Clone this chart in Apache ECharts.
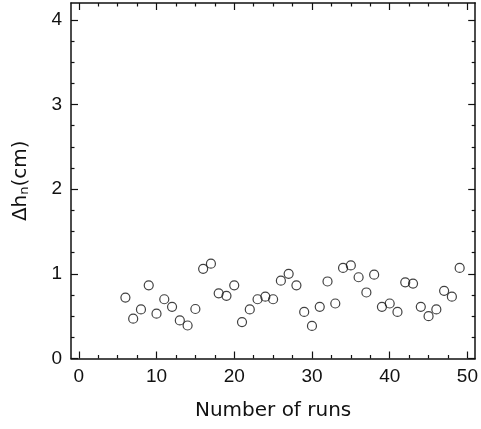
<!DOCTYPE html>
<html>
<head>
<meta charset="utf-8">
<script src="https://cdn.jsdelivr.net/npm/echarts@6/dist/echarts.min.js"></script>
<style>html,body{margin:0;padding:0;background:#fff;}#c{width:481px;height:429px;}</style>
</head>
<body>
<div id="c"></div>
<script>
var runs = [6,7,8,9,10,11,12,13,14,15,16,17,18,19,20,21,22,23,24,25,26,27,28,29,30,31,32,33,34,35,36,37,38,39,40,41,42,43,44,45,46,47,48,49];
var dh = [0.72,0.47,0.58,0.865,0.53,0.70,0.61,0.45,0.39,0.585,1.06,1.12,0.77,0.74,0.865,0.43,0.58,0.70,0.73,0.70,0.92,1.00,0.865,0.55,0.385,0.61,0.91,0.65,1.07,1.10,0.96,0.78,0.99,0.61,0.65,0.55,0.90,0.885,0.61,0.50,0.58,0.80,0.73,1.07];
var xMajor = [0,10,20,30,40,50];
var xMinor = [2.5,5,7.5,12.5,15,17.5,22.5,25,27.5,32.5,35,37.5,42.5,45,47.5];
var yMajor = [0,1,2,3,4];
var yMinor = [0.25,0.5,0.75,1.25,1.5,1.75,2.25,2.5,2.75,3.25,3.5,3.75];

var FONT = '"Liberation Sans", Arial, sans-serif';
var TFONT = '"DejaVu Sans", sans-serif';
var lineStyle = {color:'#111', width:1.5};
function xAx(pos, ticks, len, showLine, showLabel, extra) {
  var a = {
    type:'value', position:pos, min:-1, max:51,
    axisLine:{show:showLine, onZero:false, lineStyle:lineStyle},
    axisTick:{show:true, inside:true, length:len, customValues:ticks, lineStyle:{color:'#111', width:1.2}},
    axisLabel:{show:showLabel, customValues:ticks, color:'#111', fontFamily:FONT, fontSize:19, margin:9},
    splitLine:{show:false}
  };
  return Object.assign(a, extra||{});
}
function yAx(pos, ticks, len, showLine, showLabel, extra) {
  var a = {
    type:'value', position:pos, min:0, max:4.2,
    axisLine:{show:showLine, onZero:false, lineStyle:lineStyle},
    axisTick:{show:true, inside:true, length:len, customValues:ticks, lineStyle:{color:'#111', width:1.2}},
    axisLabel:{show:showLabel, customValues:ticks, color:'#111', fontFamily:FONT, fontSize:19, margin:9},
    splitLine:{show:false}
  };
  return Object.assign(a, extra||{});
}
var chart = echarts.init(document.getElementById('c'), null, {renderer:'canvas'});
chart.setOption({
  backgroundColor:'#fff',
  animation:false,
  grid:{left:71, right:4.5, top:3, bottom:70.5, containLabel:false},
  xAxis:[
    xAx('bottom', xMajor, 7, true, true, {name:'Number of runs', nameLocation:'middle', nameGap:42, nameTextStyle:{color:'#111', fontFamily:TFONT, fontSize:20}}),
    xAx('bottom', xMinor, 3.5, false, false),
    xAx('top', xMajor, 7, true, false),
    xAx('top', xMinor, 3.5, false, false)
  ],
  yAxis:[
    yAx('left', yMajor, 7, true, true, {
      name:'{a|Δh}{s|n}{a|(cm)}', nameLocation:'middle', nameGap:40, nameRotate:90,
      nameTextStyle:{color:'#111', fontFamily:TFONT, fontSize:20,
        rich:{a:{fontFamily:TFONT, fontSize:20, color:'#111'}, s:{fontFamily:TFONT, fontSize:13, color:'#111', verticalAlign:'bottom', padding:[8,0,0,0]}}}
    }),
    yAx('left', yMinor, 3.5, false, false),
    yAx('right', yMajor, 7, true, false),
    yAx('right', yMinor, 3.5, false, false)
  ],
  series:[{
    type:'scatter', xAxisIndex:0, yAxisIndex:0,
    data: runs.map(function(r,i){return [r, dh[i]];}),
    symbol:'circle', symbolSize:9,
    itemStyle:{color:'rgba(255,255,255,0)', borderColor:'#111', borderWidth:1.2}
  }]
});
</script>
</body>
</html>
